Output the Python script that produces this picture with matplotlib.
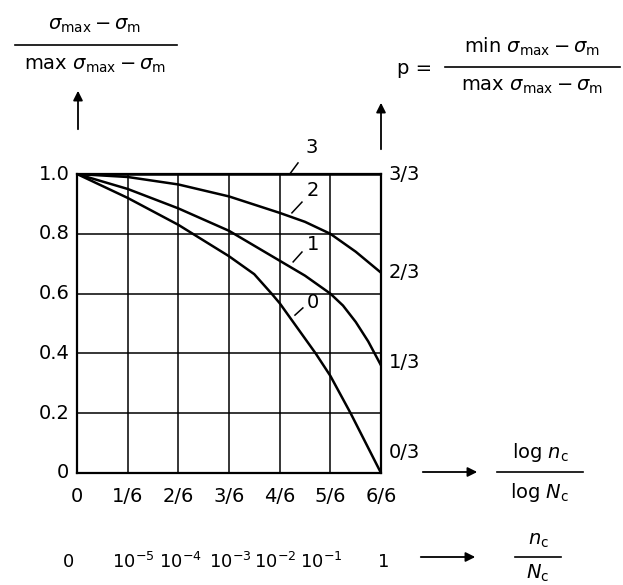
import matplotlib
matplotlib.use("Agg")
import matplotlib.pyplot as plt
from matplotlib.lines import Line2D
from matplotlib.patches import FancyArrowPatch

plt.rcParams["font.family"] = "DejaVu Sans"
plt.rcParams["mathtext.fontset"] = "dejavusans"

W, H = 623, 585

# curves p = 2/3, 1/3, 0/3 (p = 3/3 coincides with the top border)
x3 = [0, 1]
y3 = [1.0, 1.0]
x2 = [0, 1/6, 2/6, 3/6, 4/6, 0.75, 5/6, 0.917, 1]
y2 = [1.0, 0.99, 0.965, 0.925, 0.87, 0.84, 0.80, 0.74, 0.67]
x1 = [0, 1/6, 2/6, 3/6, 4/6, 0.75, 5/6, 0.875, 0.917, 0.958, 1]
y1 = [1.0, 0.95, 0.885, 0.81, 0.71, 0.66, 0.60, 0.56, 0.505, 0.44, 0.36]
x0 = [0, 1/6, 2/6, 3/6, 0.583, 0.64, 4/6, 0.785, 5/6, 0.90, 1]
y0 = [1.0, 0.92, 0.83, 0.725, 0.665, 0.60, 0.568, 0.40, 0.325, 0.20, 0.0]

curve_names = ["3", "2", "1", "0"]
xticks = [0, 1/6, 2/6, 3/6, 4/6, 5/6, 1]
xtick_labels = ["0", "1/6", "2/6", "3/6", "4/6", "5/6", "6/6"]
yticks = [0, 0.2, 0.4, 0.6, 0.8, 1.0]
ytick_labels = ["0", "0.2", "0.4", "0.6", "0.8", "1.0"]
p_labels = ["3/3", "2/3", "1/3", "0/3"]
ratio_labels = ["0", r"$10^{-5}$", r"$10^{-4}$", r"$10^{-3}$", r"$10^{-2}$", r"$10^{-1}$", "1"]


def fx(px):
    return px / W


def fy(py):
    return 1 - py / H


fig = plt.figure(figsize=(W / 100, H / 100), dpi=100)
ax = fig.add_axes([fx(77), fy(473), (381 - 77) / W, (473 - 174) / H])

for xv in xticks[1:-1]:
    ax.axvline(xv, color="black", lw=1.1)
for yv in yticks[1:-1]:
    ax.axhline(yv, color="black", lw=1.1)

lw = 1.8
for xs, ys in [(x3, y3), (x2, y2), (x1, y1), (x0, y0)]:
    ax.plot(xs, ys, color="black", lw=lw, solid_joinstyle="round")

ax.set_xlim(0, 1)
ax.set_ylim(0, 1)
for s in ax.spines.values():
    s.set_linewidth(1.6)
ax.set_xticks([])
ax.set_yticks([])

fs = 14

# left scale
for v, t in zip(yticks, ytick_labels):
    ax.text(-0.025, v, t, ha="right", va="center", fontsize=fs)
# bottom scale
for v, t in zip(xticks, xtick_labels):
    ax.text(v, -0.08, t, ha="center", va="center", fontsize=fs)
# right scale for p
p_pos = [1.0, 0.672, 0.371, 0.07]
for v, t in zip(p_pos, p_labels):
    ax.text(1.025, v, t, ha="left", va="center", fontsize=fs)

# curve labels with short leaders
label_pos = [(0.773, 1.09), (0.776, 0.946), (0.776, 0.763), (0.776, 0.569)]
leader_start = [(0.727, 1.037), (0.740, 0.906), (0.740, 0.739), (0.743, 0.552)]
leader_end = [(0.700, 1.0), (0.707, 0.870), (0.711, 0.706), (0.717, 0.528)]
for name, (tx, ty), (sx, sy), (ex, ey) in zip(curve_names, label_pos,
                                              leader_start, leader_end):
    ax.text(tx, ty, name, fontsize=fs, ha="center", va="center")
    ax.plot([sx, ex], [sy, ey], color="black", lw=1.1, clip_on=False)

# ratio scale n_c / N_c below
ratio_px = [68, 133, 180, 230, 275, 321, 384]
for px, t in zip(ratio_px, ratio_labels):
    fig.text(fx(px), fy(562), t, ha="center", va="center", fontsize=fs - 1)


def frac(cx, y_line, x0_, x1_, top, bottom, gap=20, size=fs):
    fig.text(fx(cx), fy(y_line - gap), top, ha="center", va="center", fontsize=size)
    fig.add_artist(Line2D([fx(x0_), fx(x1_)], [fy(y_line), fy(y_line)],
                          color="black", lw=1.2))
    fig.text(fx(cx), fy(y_line + gap), bottom, ha="center", va="center", fontsize=size)


def arrow(x_a, y_a, x_b, y_b):
    fig.add_artist(FancyArrowPatch(
        (fx(x_a), fy(y_a)), (fx(x_b), fy(y_b)), transform=fig.transFigure,
        arrowstyle="-|>", mutation_scale=14, lw=1.3, color="black"))


# y axis title (left) and p definition (right)
frac(95, 45, 15, 177, r"$\sigma_{\mathrm{max}} - \sigma_{\mathrm{m}}$",
     r"max $\sigma_{\mathrm{max}} - \sigma_{\mathrm{m}}$")
arrow(78, 132, 78, 88)
fig.text(fx(415), fy(68), "p =", ha="center", va="center", fontsize=fs)
frac(532, 67, 445, 620, r"min $\sigma_{\mathrm{max}} - \sigma_{\mathrm{m}}$",
     r"max $\sigma_{\mathrm{max}} - \sigma_{\mathrm{m}}$")
arrow(381, 152, 381, 100)

# x axis titles
arrow(420, 472, 480, 472)
frac(540, 472, 497, 583, r"log $n_{\mathrm{c}}$", r"log $N_{\mathrm{c}}$")
arrow(418, 557, 478, 557)
frac(538, 557, 515, 561, r"$n_{\mathrm{c}}$", r"$N_{\mathrm{c}}$", gap=16)

fig.savefig("out.png", dpi=100)
